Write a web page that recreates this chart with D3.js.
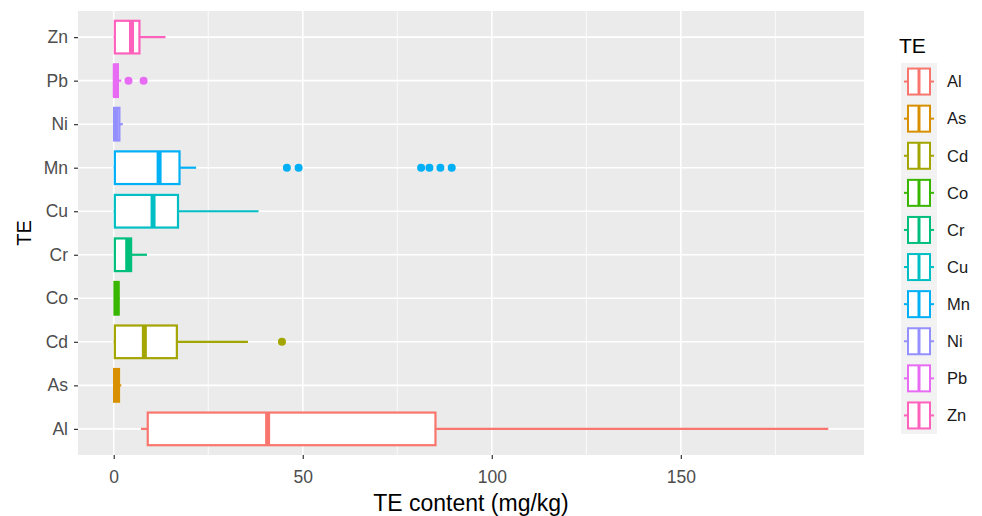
<!DOCTYPE html>
<html>
<head>
<meta charset="utf-8">
<script src="https://cdn.jsdelivr.net/npm/d3@7"></script>
<style>
  body { margin: 0; background: #fff; }
  text { font-family: "Liberation Sans", Arial, sans-serif; }
</style>
</head>
<body>
<div id="chart"></div>
<script>
// values (mg/kg)
const categories = ["Al", "As", "Cd", "Co", "Cr", "Cu", "Mn", "Ni", "Pb", "Zn"];
const lowerWhisker = [7.2, 0.0, 0.0, 0.1, 0.1, 0.0, 0.0, 0.0, 0.0, 0.0];
const q1Values     = [9.0, 0.1, 0.3, 0.2, 0.3, 0.3, 0.3, 0.1, 0.1, 0.3];
const medianValues = [40.7, 0.8, 8.1, 0.8, 3.7, 10.4, 12.0, 0.6, 0.4, 4.7];
const q3Values     = [85.1, 1.4, 16.7, 1.3, 4.6, 17.0, 17.4, 1.5, 1.1, 6.8];
const upperWhisker = [189.0, 2.0, 35.5, 1.5, 8.8, 38.3, 21.8, 2.4, 2.0, 13.7];
const outlierValues = [[], [], [44.5], [], [], [], [45.8, 48.9, 81.3, 83.5, 86.4, 89.4], [], [3.9, 7.9], []];
const xTicks = [0, 50, 100, 150];
const colors = ["#F8766D", "#D89000", "#A3A500", "#39B600", "#00BF7D", "#00BFC4", "#00B0F6", "#9590FF", "#E76BF3", "#FF62BC"];

const width = 982, height = 516;
const margin = { top: 11, right: 118, bottom: 61, left: 78 };
const plotW = width - margin.left - margin.right;
const plotH = height - margin.top - margin.bottom;

const data = categories.map((c, i) => ({
    te: c, lo: lowerWhisker[i], q1: q1Values[i], med: medianValues[i],
    q3: q3Values[i], hi: upperWhisker[i], out: outlierValues[i], color: colors[i]
}));

const svg = d3.select("#chart").append("svg")
    .attr("width", width)
    .attr("height", height);

const g = svg.append("g")
    .attr("transform", `translate(${margin.left},${margin.top})`);

// x scale with ggplot style 5% expansion
const allVals = data.flatMap(d => [d.lo, d.hi, ...d.out]);
const [xmin, xmax] = d3.extent(allVals);
const pad = (xmax - xmin) * 0.05;
const x = d3.scaleLinear().domain([xmin - pad, xmax + pad]).range([0, plotW]);

// discrete y with 0.6 expansion: Al at bottom
const y = d3.scalePoint().domain(categories).range([plotH, 0]).padding(0.6);
const step = y.step();
const boxH = step * 0.75;

// panel
g.append("rect")
    .attr("width", plotW).attr("height", plotH)
    .attr("fill", "#EBEBEB");

// minor gridlines
const minor = xTicks.slice(0, -1).map((t, i) => (t + xTicks[i + 1]) / 2).concat([175]);
g.selectAll(".minor").data(minor).enter().append("line")
    .attr("x1", d => x(d)).attr("x2", d => x(d))
    .attr("y1", 0).attr("y2", plotH)
    .attr("stroke", "#fff").attr("stroke-width", 0.8);

g.selectAll(".gx").data(xTicks).enter().append("line")
    .attr("x1", d => x(d)).attr("x2", d => x(d))
    .attr("y1", 0).attr("y2", plotH)
    .attr("stroke", "#fff").attr("stroke-width", 1.6);

g.selectAll(".gy").data(categories).enter().append("line")
    .attr("x1", 0).attr("x2", plotW)
    .attr("y1", d => y(d)).attr("y2", d => y(d))
    .attr("stroke", "#fff").attr("stroke-width", 1.6);

// boxes
const boxes = g.selectAll(".box").data(data).enter().append("g")
    .attr("transform", d => `translate(0,${y(d.te)})`);

boxes.append("line")
    .attr("x1", d => x(d.lo)).attr("x2", d => x(d.q1))
    .attr("stroke", d => d.color).attr("stroke-width", 2.2);

boxes.append("line")
    .attr("x1", d => x(d.q3)).attr("x2", d => x(d.hi))
    .attr("stroke", d => d.color).attr("stroke-width", 2.2);

boxes.append("rect")
    .attr("x", d => x(d.q1))
    .attr("y", -boxH / 2)
    .attr("width", d => x(d.q3) - x(d.q1))
    .attr("height", boxH)
    .attr("fill", "#fff")
    .attr("stroke", d => d.color).attr("stroke-width", 2.2);

boxes.append("line")
    .attr("x1", d => x(d.med)).attr("x2", d => x(d.med))
    .attr("y1", -boxH / 2).attr("y2", boxH / 2)
    .attr("stroke", d => d.color).attr("stroke-width", 5);

boxes.selectAll(".out").data(d => d.out.map(v => ({ v, color: d.color }))).enter()
    .append("circle")
    .attr("cx", d => x(d.v)).attr("cy", 0).attr("r", 4)
    .attr("fill", d => d.color);

// axes
const xAxis = g.append("g")
    .attr("transform", `translate(0,${plotH})`)
    .call(d3.axisBottom(x).tickValues(xTicks).tickSize(4).tickPadding(12).tickFormat(d3.format("d")));
const yAxis = g.append("g")
    .call(d3.axisLeft(y).tickSize(4).tickPadding(6));

[xAxis, yAxis].forEach(a => {
    a.select(".domain").remove();
    a.selectAll(".tick line").attr("stroke", "#333").attr("stroke-width", 1.2);
    a.selectAll(".tick text").attr("fill", "#4D4D4D").style("font-size", "17.5px")
        .style("font-family", "Liberation Sans, Arial, sans-serif");
});

// axis titles
g.append("text")
    .attr("text-anchor", "middle")
    .attr("x", plotW / 2)
    .attr("y", plotH + 56)
    .text("TE content (mg/kg)")
    .style("fill", "black")
    .style("font-size", "23px");

g.append("text")
    .attr("text-anchor", "middle")
    .attr("transform", "rotate(-90)")
    .attr("x", -plotH / 2)
    .attr("y", -margin.left + 31)
    .text("TE")
    .style("fill", "black")
    .style("font-size", "20px");

// legend
const keyW = 36, keyH = 37.1;
const legend = svg.append("g").attr("transform", "translate(901,63)");

legend.append("text")
    .attr("x", -2).attr("y", -10)
    .text("TE")
    .style("fill", "black")
    .style("font-size", "21px");

const keys = legend.selectAll(".key").data(data).enter().append("g")
    .attr("transform", (d, i) => `translate(0,${i * keyH})`);

keys.append("rect")
    .attr("width", keyW).attr("height", keyH)
    .attr("fill", "#F2F2F2");

keys.append("line")
    .attr("x1", 3).attr("x2", keyW - 3)
    .attr("y1", keyH / 2).attr("y2", keyH / 2)
    .attr("stroke", d => d.color).attr("stroke-width", 2);

keys.append("rect")
    .attr("x", 7).attr("y", keyH / 2 - 13)
    .attr("width", keyW - 14).attr("height", 26)
    .attr("fill", "#fff")
    .attr("stroke", d => d.color).attr("stroke-width", 2);

keys.append("line")
    .attr("x1", keyW / 2).attr("x2", keyW / 2)
    .attr("y1", keyH / 2 - 13).attr("y2", keyH / 2 + 13)
    .attr("stroke", d => d.color).attr("stroke-width", 3);

keys.append("text")
    .attr("x", keyW + 10)
    .attr("y", keyH / 2)
    .attr("dy", "0.35em")
    .text(d => d.te)
    .style("fill", "#1a1a1a")
    .style("font-size", "16.5px");
</script>
</body>
</html>
